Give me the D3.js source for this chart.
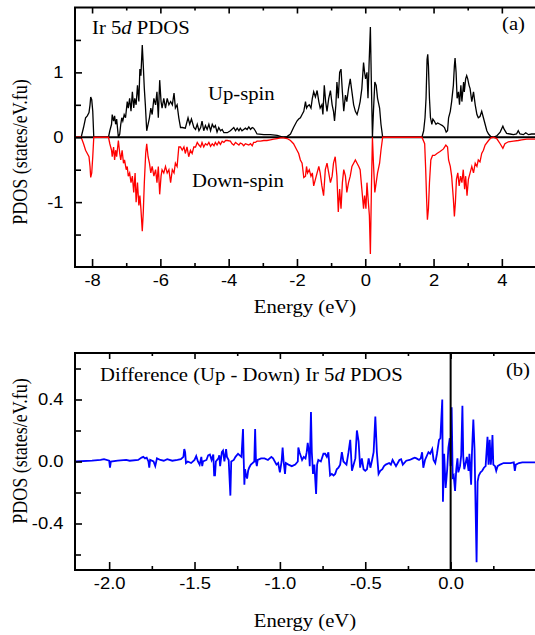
<!DOCTYPE html>
<html>
<head>
<meta charset="utf-8">
<script src="https://cdn.jsdelivr.net/npm/d3@7"></script>
<style>
  body { margin: 0; background: #fff; }
  svg { display: block; }
  .tick text { font-family: "Liberation Sans", Arial, sans-serif; font-size: 16px; fill: #000; }
  .lbl { font-family: "Liberation Serif", "Times New Roman", serif; font-size: 18px; fill: #000; }
</style>
</head>
<body>
<svg id="chart" width="535" height="635"></svg>
<script>
// ---- data ----
// panel (a): Ir 5d PDOS, [energy (eV), states/eV.fu]
var upSpin = [
  [-8.50,0],[-8.32,0],[-8.25,0.15],[-8.19,0.30],[-8.14,0.33],[-8.09,0.38],[-8.06,0.50],[-8.04,0.62],[-8.01,0.58],[-7.98,0.40],[-7.95,0],
  [-7.52,0],[-7.48,0.10],[-7.43,0.20],[-7.41,0.35],[-7.37,0.25],[-7.34,0.33],[-7.31,0.20],[-7.28,0.28],[-7.23,0],
  [-7.19,0.05],[-7.16,0.20],[-7.13,0.30],[-7.10,0.25],[-7.06,0.35],[-7.02,0.30],[-6.97,0.55],[-6.94,0.45],[-6.90,0.60],[-6.86,0.40],
  [-6.82,0.70],[-6.78,0.45],[-6.75,0.60],[-6.71,0.50],[-6.67,0.80],[-6.63,0.55],[-6.60,1.05],[-6.57,0.95],[-6.53,1.42],[-6.50,1.10],
  [-6.47,0.75],[-6.44,0.50],[-6.40,0.10],[-6.36,0.20],[-6.32,0.30],[-6.28,0.45],[-6.24,0.35],[-6.19,0.60],[-6.14,0.50],[-6.10,0.70],
  [-6.06,0.30],[-6.02,0.88],[-5.98,0.55],[-5.95,0.45],[-5.90,0.60],[-5.85,0.45],[-5.80,0.60],[-5.75,0.50],[-5.70,0.55],[-5.65,0.50],
  [-5.60,0.68],[-5.56,0.45],[-5.51,0.50],[-5.46,0.30],[-5.41,0.15],[-5.36,0.15],[-5.27,0.14],[-5.19,0.30],[-5.14,0.20],[-5.09,0.28],
  [-5.02,0.15],[-4.97,0.12],[-4.92,0.20],[-4.87,0.10],[-4.82,0.15],[-4.78,0.25],[-4.73,0.10],[-4.68,0.18],[-4.63,0.12],[-4.58,0.20],
  [-4.53,0.10],[-4.48,0.20],[-4.43,0.15],[-4.39,0.18],[-4.34,0.08],[-4.29,0.15],[-4.24,0.10],[-4.19,0.12],[-4.14,0.07],[-4.04,0.07],
  [-3.95,0.10],[-3.85,0.15],[-3.80,0.10],[-3.75,0.14],[-3.70,0.10],[-3.66,0.14],[-3.61,0.10],[-3.56,0.12],[-3.51,0.14],[-3.46,0.12],
  [-3.41,0.16],[-3.36,0.12],[-3.31,0.15],[-3.27,0.14],[-3.22,0.10],[-3.17,0.05],[-2.97,0.04],[-2.78,0.04],[-2.58,0.03],[-2.39,0.00],
  [-2.29,0.01],[-2.19,0.05],[-2.10,0.15],[-2.00,0.25],[-1.95,0.28],[-1.90,0.30],[-1.85,0.35],[-1.80,0.40],[-1.75,0.55],[-1.72,0.45],
  [-1.69,0.48],[-1.64,0.50],[-1.59,0.45],[-1.55,0.60],[-1.51,0.70],[-1.46,0.62],[-1.41,0.72],[-1.36,0.55],[-1.32,0.45],[-1.27,0.50],
  [-1.24,0.35],[-1.20,0.80],[-1.16,0.55],[-1.12,0.40],[-1.07,0.60],[-1.02,0.72],[-0.97,0.50],[-0.93,0.40],[-0.90,0.25],[-0.86,0.50],
  [-0.83,0.85],[-0.79,0.60],[-0.75,1.00],[-0.71,1.05],[-0.67,0.70],[-0.63,0.40],[-0.58,0.65],[-0.54,0.55],[-0.49,0.75],[-0.44,0.90],
  [-0.39,0.70],[-0.34,0.50],[-0.29,0.40],[-0.24,0.35],[-0.19,0.45],[-0.15,0.55],[-0.10,0.75],[-0.05,1.15],[-0.02,1.00],[0.01,0.90],
  [0.05,1.00],[0.08,0.60],[0.11,1.10],[0.15,1.70],[0.18,0.80],[0.21,0],[0.24,0.40],[0.28,0.85],[0.32,0.80],[0.36,0.60],
  [0.42,0.45],[0.46,0.20],[0.51,0],[1.66,0],[1.71,0.10],[1.75,0.30],[1.78,0.60],[1.81,1.20],[1.83,1.28],[1.85,1.10],
  [1.88,0.60],[1.91,0.30],[1.95,0.20],[1.98,0.28],[2.02,0.25],[2.07,0.20],[2.12,0.22],[2.19,0.20],[2.26,0.18],[2.32,0.15],
  [2.37,0.08],[2.41,0.10],[2.44,0.30],[2.49,0.40],[2.53,0.55],[2.58,0.80],[2.61,1.10],[2.63,1.22],[2.66,1.00],[2.69,0.60],
  [2.73,0.70],[2.76,0.50],[2.80,0.80],[2.83,0.55],[2.88,0.85],[2.90,0.70],[2.94,0.90],[2.97,0.95],[3.00,0.90],[3.04,0.80],
  [3.07,0.75],[3.12,0.55],[3.17,0.70],[3.22,0.50],[3.27,0.35],[3.31,0.30],[3.36,0.32],[3.41,0.40],[3.46,0.30],[3.51,0.20],
  [3.56,0.10],[3.61,0.05],[3.68,0.01],[3.75,0],[3.85,0.02],[3.95,0.08],[4.03,0.17],[4.07,0.12],[4.14,0.06],[4.24,0.05],
  [4.34,0.04],[4.43,0.05],[4.48,0.10],[4.53,0.05],[4.63,0.04],[4.70,0.07],[4.78,0.04],[4.87,0.05],[5.00,0.05]
];

var downSpin = [
  [-8.50,0],[-8.32,0],[-8.25,-0.10],[-8.19,-0.20],[-8.14,-0.25],[-8.09,-0.30],[-8.06,-0.45],[-8.04,-0.62],[-8.01,-0.55],[-7.98,-0.30],[-7.95,0],
  [-7.52,0],[-7.48,-0.10],[-7.43,-0.20],[-7.41,-0.30],[-7.37,-0.15],[-7.34,-0.35],[-7.31,-0.20],[-7.28,-0.30],[-7.23,-0.05],
  [-7.19,-0.25],[-7.16,-0.35],[-7.12,-0.20],[-7.08,-0.40],[-7.05,-0.35],[-7.00,-0.50],[-6.97,-0.45],[-6.94,-0.60],[-6.90,-0.55],[-6.86,-0.70],
  [-6.82,-0.60],[-6.78,-0.85],[-6.74,-0.55],[-6.71,-1.00],[-6.67,-0.70],[-6.63,-1.05],[-6.60,-0.90],[-6.57,-1.10],[-6.53,-1.45],[-6.50,-1.15],
  [-6.47,-0.70],[-6.43,-0.25],[-6.40,-0.10],[-6.36,-0.30],[-6.32,-0.40],[-6.28,-0.55],[-6.24,-0.45],[-6.19,-0.60],[-6.14,-0.50],[-6.10,-0.70],
  [-6.06,-0.45],[-6.02,-0.88],[-5.98,-0.60],[-5.95,-0.50],[-5.90,-0.55],[-5.85,-0.45],[-5.80,-0.55],[-5.75,-0.50],[-5.70,-0.70],[-5.65,-0.50],
  [-5.60,-0.55],[-5.56,-0.40],[-5.51,-0.45],[-5.46,-0.15],[-5.41,-0.15],[-5.36,-0.20],[-5.31,-0.15],[-5.27,-0.25],[-5.22,-0.15],[-5.17,-0.30],
  [-5.12,-0.20],[-5.07,-0.25],[-5.02,-0.15],[-4.97,-0.15],[-4.92,-0.08],[-4.87,-0.12],[-4.82,-0.15],[-4.78,-0.08],[-4.73,-0.15],[-4.68,-0.10],
  [-4.63,-0.12],[-4.58,-0.08],[-4.53,-0.14],[-4.48,-0.10],[-4.43,-0.13],[-4.39,-0.08],[-4.34,-0.12],[-4.29,-0.07],[-4.24,-0.11],[-4.19,-0.06],
  [-4.14,-0.08],[-4.09,-0.05],[-4.04,-0.05],[-3.95,-0.06],[-3.90,-0.10],[-3.85,-0.12],[-3.80,-0.08],[-3.75,-0.10],[-3.70,-0.12],[-3.66,-0.09],
  [-3.61,-0.10],[-3.56,-0.13],[-3.51,-0.10],[-3.46,-0.11],[-3.41,-0.12],[-3.36,-0.10],[-3.31,-0.13],[-3.27,-0.08],[-3.22,-0.08],[-3.17,-0.06],
  [-3.07,-0.06],[-2.97,-0.05],[-2.88,-0.05],[-2.78,-0.04],[-2.68,-0.03],[-2.58,-0.02],[-2.48,-0.01],[-2.39,-0.01],[-2.29,-0.02],[-2.19,-0.05],
  [-2.10,-0.10],[-2.00,-0.20],[-1.95,-0.25],[-1.90,-0.35],[-1.85,-0.40],[-1.80,-0.62],[-1.75,-0.60],[-1.72,-0.45],[-1.69,-0.55],[-1.64,-0.50],
  [-1.59,-0.60],[-1.55,-0.55],[-1.51,-0.75],[-1.46,-0.65],[-1.41,-0.55],[-1.36,-0.45],[-1.32,-0.55],[-1.27,-0.75],[-1.22,-0.90],[-1.17,-0.50],
  [-1.12,-0.40],[-1.07,-0.55],[-1.02,-0.70],[-0.97,-0.60],[-0.93,-0.40],[-0.88,-0.30],[-0.83,-0.60],[-0.79,-1.15],[-0.75,-0.80],[-0.71,-1.10],
  [-0.67,-0.70],[-0.63,-0.50],[-0.58,-0.60],[-0.54,-0.85],[-0.49,-0.70],[-0.44,-0.60],[-0.39,-0.45],[-0.34,-0.40],[-0.29,-0.35],[-0.24,-0.40],
  [-0.19,-0.45],[-0.15,-0.50],[-0.10,-0.80],[-0.05,-1.10],[-0.02,-0.90],[0.02,-1.10],[0.05,-0.70],[0.09,-1.00],[0.12,-1.20],[0.15,-1.80],
  [0.18,-0.80],[0.21,0],[0.24,-0.40],[0.28,-0.85],[0.32,-0.70],[0.36,-0.55],[0.42,-0.40],[0.46,-0.20],[0.51,0],[1.66,0],
  [1.74,-0.10],[1.77,-0.50],[1.80,-1.00],[1.82,-1.27],[1.85,-1.10],[1.88,-0.70],[1.92,-0.35],[1.97,-0.28],[2.03,-0.28],[2.10,-0.25],
  [2.19,-0.22],[2.29,-0.18],[2.36,-0.12],[2.41,-0.15],[2.44,-0.35],[2.49,-0.45],[2.53,-0.60],[2.58,-0.95],[2.61,-1.22],[2.64,-1.00],
  [2.67,-0.65],[2.71,-0.55],[2.75,-0.75],[2.79,-0.60],[2.83,-0.70],[2.87,-0.50],[2.91,-0.80],[2.94,-0.60],[2.98,-0.90],[3.02,-0.65],
  [3.07,-0.55],[3.12,-0.45],[3.17,-0.55],[3.22,-0.40],[3.27,-0.45],[3.31,-0.35],[3.36,-0.38],[3.41,-0.25],[3.46,-0.20],[3.51,-0.12],
  [3.61,-0.05],[3.68,-0.01],[3.75,0],[3.85,-0.02],[3.95,-0.10],[4.03,-0.17],[4.09,-0.10],[4.19,-0.07],[4.34,-0.06],[4.48,-0.05],
  [4.58,-0.04],[4.73,-0.03],[4.87,-0.03],[5.00,-0.03]
];

// panel (b): difference (up - down), [energy (eV), states/eV.fu]
var diffPdos = [
  [-2.20,0],[-2.10,0.005],[-2.05,0.01],[-2.03,0.015],[-2.00,0.005],[-1.995,-0.04],[-1.99,0],[-1.95,0.005],[-1.90,0.01],[-1.88,0.005],
  [-1.83,0.01],[-1.81,0.025],[-1.80,0.03],[-1.79,0.02],[-1.78,0.025],[-1.77,0],[-1.765,-0.04],[-1.76,0.01],[-1.74,0],[-1.73,-0.03],
  [-1.72,0.02],[-1.70,0.01],[-1.68,0.005],[-1.66,0.015],[-1.63,0.005],[-1.60,0.01],[-1.58,0.015],[-1.565,0.03],[-1.56,0.08],[-1.555,0.06],
  [-1.55,-0.01],[-1.54,0],[-1.52,-0.01],[-1.50,0.01],[-1.49,0.035],[-1.48,0],[-1.47,-0.02],[-1.46,0.03],[-1.455,-0.03],[-1.45,0],
  [-1.43,0.01],[-1.42,0.04],[-1.41,0.045],[-1.40,0.01],[-1.39,0.045],[-1.385,-0.09],[-1.38,-0.09],[-1.375,0],[-1.36,0.02],[-1.355,0.04],
  [-1.35,-0.03],[-1.34,0.06],[-1.333,0.07],[-1.325,0],[-1.315,0.08],[-1.31,0.03],[-1.30,0.01],[-1.29,-0.22],[-1.285,0],[-1.27,0.01],
  [-1.26,0.03],[-1.245,0.05],[-1.235,0.04],[-1.225,0.03],[-1.216,0.21],[-1.212,0.02],[-1.208,-0.15],[-1.204,-0.05],[-1.198,-0.09],[-1.192,-0.11],
  [-1.186,-0.06],[-1.18,-0.04],[-1.17,-0.02],[-1.16,-0.01],[-1.15,0],[-1.145,0.21],[-1.14,0],[-1.135,-0.03],[-1.13,0.01],[-1.11,0.02],
  [-1.09,0.02],[-1.07,0.01],[-1.05,0.03],[-1.04,0.02],[-1.02,-0.02],[-1.01,-0.01],[-1.00,-0.07],[-0.99,0],[-0.984,0.09],[-0.978,0],
  [-0.97,-0.08],[-0.965,-0.01],[-0.95,-0.02],[-0.93,-0.03],[-0.91,-0.02],[-0.895,0],[-0.892,0.09],[-0.885,0.06],[-0.87,0.01],[-0.86,0.03],
  [-0.85,0.02],[-0.843,0.06],[-0.837,0.12],[-0.83,0.06],[-0.825,-0.03],[-0.818,0.32],[-0.813,0.06],[-0.806,-0.08],[-0.798,-0.02],[-0.788,-0.21],
  [-0.782,-0.02],[-0.775,0.01],[-0.76,0],[-0.745,0.05],[-0.735,0.05],[-0.725,0.03],[-0.716,0.06],[-0.706,-0.09],[-0.696,-0.08],[-0.686,-0.09],
  [-0.676,-0.08],[-0.667,-0.05],[-0.657,-0.04],[-0.647,-0.02],[-0.637,0.06],[-0.628,0],[-0.61,-0.02],[-0.598,0.06],[-0.588,0.14],[-0.578,-0.06],
  [-0.568,-0.02],[-0.558,0.02],[-0.549,0.20],[-0.539,0.13],[-0.53,-0.04],[-0.52,0.02],[-0.51,-0.05],[-0.50,-0.06],[-0.49,-0.05],[-0.48,0.02],
  [-0.47,-0.04],[-0.46,0.01],[-0.451,0.06],[-0.441,0.29],[-0.432,0.06],[-0.422,-0.08],[-0.412,-0.06],[-0.40,-0.05],[-0.39,-0.03],[-0.38,-0.02],
  [-0.36,-0.01],[-0.35,-0.02],[-0.34,0.01],[-0.32,-0.03],[-0.30,0.01],[-0.29,0.015],[-0.28,-0.02],[-0.26,0.005],[-0.24,0.01],[-0.22,0.02],
  [-0.21,0.025],[-0.20,0.02],[-0.185,0.01],[-0.175,0.02],[-0.167,0.06],[-0.16,-0.04],[-0.15,0.01],[-0.13,0.06],[-0.12,0.05],[-0.108,0.08],
  [-0.10,0.01],[-0.09,-0.01],[-0.08,0.05],[-0.068,0.14],[-0.06,0.15],[-0.049,0.40],[-0.045,-0.26],[-0.038,0.05],[-0.029,-0.17],[-0.02,-0.05],
  [-0.013,0.09],[-0.005,0.15],[0.0,-0.03],[0.006,0.35],[0.012,-0.10],[0.018,-0.09],[0.026,-0.19],[0.033,-0.05],[0.04,0.02],[0.045,-0.07],
  [0.055,-0.03],[0.062,0.04],[0.069,0.36],[0.074,0.03],[0.08,-0.05],[0.086,-0.02],[0.095,0.03],[0.105,-0.06],[0.11,0.05],[0.12,-0.15],
  [0.125,0.06],[0.133,0.27],[0.14,0.08],[0.152,-0.65],[0.158,-0.13],[0.165,-0.09],[0.175,-0.07],[0.185,-0.06],[0.195,-0.04],[0.205,-0.03],
  [0.216,0.16],[0.222,-0.02],[0.229,0.14],[0.235,-0.02],[0.24,0.04],[0.245,0.17],[0.25,-0.02],[0.26,-0.03],[0.267,-0.06],[0.275,-0.03],
  [0.29,-0.02],[0.31,-0.01],[0.33,-0.01],[0.35,-0.01],[0.37,-0.005],[0.376,-0.06],[0.382,-0.02],[0.40,-0.01],[0.42,-0.005],[0.45,-0.005],
  [0.50,-0.005]
];

// ticks
var xMajorA = [-8, -6, -4, -2, 0, 2, 4];
var xMinorA = [-7, -5, -3, -1, 1, 3, 5];
var yMajorA = [-1, 0, 1];
var yMinorA = [-1.5, -0.5, 0.5, 1.5];
var xMajorB = [-2.0, -1.5, -1.0, -0.5, 0.0];
var xMinorB = [-1.75, -1.25, -0.75, -0.25, 0.25];
var yMajorB = [-0.4, 0.0, 0.4];
var yMinorB = [-0.6, -0.2, 0.2, 0.6];

var svg = d3.select("#chart");

var frame = { left: 75, right: 536 };
var stretch = 1.15;   // the original figure is a bit wider than tall

function drawAxes(g, xScale, yScale, top, bottom, xMaj, xMin, yMaj, yMin, xFmt, yFmt) {
    g.append("g").attr("transform", "translate(0," + bottom + ")")
        .call(d3.axisBottom(xScale).tickValues(xMaj).tickSizeInner(-8).tickSizeOuter(0).tickPadding(8).tickFormat(xFmt))
        .selectAll(".tick text").attr("transform", "scale(" + stretch + ",1)");
    g.append("g").attr("transform", "translate(0," + bottom + ")")
        .call(d3.axisBottom(xScale).tickValues(xMin).tickSizeInner(-4).tickSizeOuter(0).tickFormat(""));
    g.append("g").attr("transform", "translate(0," + top + ")")
        .call(d3.axisTop(xScale).tickValues(xMaj).tickSizeInner(-6).tickSizeOuter(0).tickFormat(""));
    g.append("g").attr("transform", "translate(0," + top + ")")
        .call(d3.axisTop(xScale).tickValues(xMin).tickSizeInner(-3).tickSizeOuter(0).tickFormat(""));
    g.append("g").attr("transform", "translate(" + frame.left + ",0)")
        .call(d3.axisLeft(yScale).tickValues(yMaj).tickSizeInner(-7).tickSizeOuter(0).tickPadding(10).tickFormat(yFmt))
        .selectAll(".tick text").attr("transform", "scale(" + stretch + ",1)");
    g.append("g").attr("transform", "translate(" + frame.left + ",0)")
        .call(d3.axisLeft(yScale).tickValues(yMin).tickSizeInner(-6).tickSizeOuter(0).tickFormat(""));
    g.selectAll(".domain").remove();
    g.selectAll(".tick line").attr("stroke", "#000").attr("stroke-width", 1.6);

    g.append("rect")
        .attr("x", frame.left).attr("y", top)
        .attr("width", frame.right - frame.left).attr("height", bottom - top)
        .attr("fill", "none").attr("stroke", "#000").attr("stroke-width", 2);
}

function label(g, x, y, anchor) {
    return g.append("text").attr("class", "lbl")
        .attr("text-anchor", anchor || "start")
        .attr("transform", "translate(" + x + "," + y + ") scale(" + stretch + ",1)");
}

// ---------- panel (a) ----------
var topA = 7.5, bottomA = 267;
var xA = d3.scaleLinear().domain([-8.5, 5]).range([frame.left, frame.right]);
var yA = d3.scaleLinear().domain([-2, 2]).range([bottomA, topA]);
var gA = svg.append("g");

var lineA = d3.line().x(function(d) { return xA(d[0]); }).y(function(d) { return yA(d[1]); });

gA.append("line")
    .attr("x1", frame.left).attr("x2", frame.right)
    .attr("y1", yA(0)).attr("y2", yA(0))
    .attr("stroke", "#000").attr("stroke-width", 2);

gA.append("path").datum(upSpin)
    .attr("d", lineA).attr("fill", "none").attr("stroke", "#000").attr("stroke-width", 1.3);
gA.append("path").datum(downSpin)
    .attr("d", lineA).attr("fill", "none").attr("stroke", "#ff0000").attr("stroke-width", 1.3);

drawAxes(gA, xA, yA, topA, bottomA, xMajorA, xMinorA, yMajorA, yMinorA,
    function(d) { return String(d); }, function(d) { return String(d); });

var tA = label(gA, 92, 34);
tA.append("tspan").text("Ir 5");
tA.append("tspan").attr("font-style", "italic").text("d");
tA.append("tspan").text(" PDOS");
label(gA, 525, 30, "end").text("(a)");
label(gA, 208, 100).text("Up-spin");
label(gA, 192, 187).text("Down-spin");
label(gA, 305, 313, "middle").text("Energy (eV)");
gA.append("text").attr("class", "lbl").attr("text-anchor", "middle")
    .attr("transform", "translate(27,152) rotate(-90) scale(1," + stretch + ")")
    .text("PDOS (states/eV.fu)");

// ---------- panel (b) ----------
var topB = 353, bottomB = 570;
var xB = d3.scaleLinear().domain([-2.2, 0.5]).range([frame.left, frame.right]);
var yB = d3.scaleLinear().domain([-0.7, 0.7]).range([bottomB, topB]);
var gB = svg.append("g");

var lineB = d3.line().x(function(d) { return xB(d[0]); }).y(function(d) { return yB(d[1]); });

gB.append("path").datum(diffPdos)
    .attr("d", lineB).attr("fill", "none").attr("stroke", "#0000ff").attr("stroke-width", 1.8);

gB.append("line")
    .attr("x1", xB(0)).attr("x2", xB(0))
    .attr("y1", topB).attr("y2", bottomB)
    .attr("stroke", "#000").attr("stroke-width", 2);

drawAxes(gB, xB, yB, topB, bottomB, xMajorB, xMinorB, yMajorB, yMinorB,
    function(d) { return d.toFixed(1); }, function(d) { return d.toFixed(1); });

var tB = label(gB, 100, 381);
tB.append("tspan").text("Difference (Up - Down) Ir 5");
tB.append("tspan").attr("font-style", "italic").text("d");
tB.append("tspan").text(" PDOS");
label(gB, 530, 376, "end").text("(b)");
label(gB, 305, 627, "middle").text("Energy (eV)");
gB.append("text").attr("class", "lbl").attr("text-anchor", "middle")
    .attr("transform", "translate(27,451) rotate(-90) scale(1," + stretch + ")")
    .text("PDOS (states/eV.fu)");
</script>
</body>
</html>
